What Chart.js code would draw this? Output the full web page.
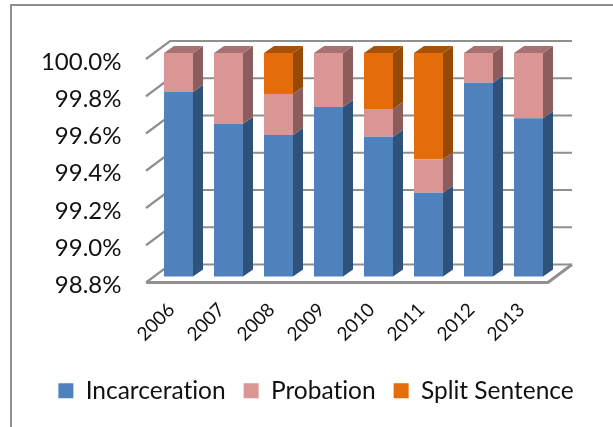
<!DOCTYPE html>
<html>
<head>
<meta charset="utf-8">
<title>Sentences</title>
<script src="https://cdn.jsdelivr.net/npm/chart.js@4"></script>
<style>
  html, body { margin: 0; background: #fff; }
  #wrap { position: relative; width: 613px; height: 427px; overflow: hidden; }
  #wrap:before { content: ''; position: absolute; left: 10px; top: 4px; right: 0; bottom: 0; border-left: 2px solid #8e8e8e; border-top: 2px solid #8e8e8e; }
  canvas { position: absolute; left: 0; top: 0; }
</style>
</head>
<body>
<div id="wrap"><canvas id="c" width="613" height="427"></canvas></div>
<script>
'use strict';

var years         = ['2006', '2007', '2008', '2009', '2010', '2011', '2012', '2013'];
var incarceration = [99.79, 99.62, 99.56, 99.71, 99.55, 99.25, 99.84, 99.65];
var probation     = [0.21, 0.38, 0.22, 0.29, 0.15, 0.18, 0.16, 0.35];
var splitSentence = [0, 0, 0.22, 0, 0.30, 0.57, 0, 0];

var colorBlue   = '#4f81bd';
var colorPink   = '#d99694';
var colorOrange = '#e46c0a';
var colorGrid   = '#8f8f8f';

// side and top faces per series
var sideColors = ['#2f527a', '#8b5e5d', '#964a07'];
var topColors  = ['#39618f', '#a87171', '#a85108'];

var DEPTH_X = 10, DEPTH_Y = -7;

function poly(ctx, pts, fill) {
    ctx.beginPath();
    ctx.moveTo(pts[0][0], pts[0][1]);
    for (var i = 1; i < pts.length; i++) ctx.lineTo(pts[i][0], pts[i][1]);
    ctx.closePath();
    ctx.fillStyle = fill;
    ctx.fill();
}

// ── back wall, left wall and floor ──────────────────────────────────
var wallsPlugin = {
    id: 'walls',
    beforeDraw: function (chart) {
        // no "ti" ligature in the legend
        chart.ctx.textRendering = 'optimizeSpeed';
    },
    beforeDatasetsDraw: function (chart) {
        var ctx = chart.ctx, y = chart.scales.y, a = chart.chartArea;
        var fl = a.left - 7.5, bl = a.left + 16.5, br = a.right + 18.5, fr = a.right - 5.5;
        ctx.save();
        ctx.strokeStyle = colorGrid;
        ctx.lineWidth = 2.2;
        y.ticks.forEach(function (t) {
            var py = y.getPixelForValue(t.value);
            ctx.beginPath();
            ctx.moveTo(fl, py + 6);
            ctx.lineTo(bl, py - 12);
            ctx.lineTo(br, py - 12);
            ctx.stroke();
        });
        var base = a.bottom;
        ctx.lineWidth = 3;
        ctx.beginPath();
        ctx.moveTo(fl, base + 6);
        ctx.lineTo(fr, base + 6);
        ctx.lineTo(br, base - 12);
        ctx.stroke();
        ctx.restore();
    }
};

// ── 3D faces of the bars ────────────────────────────────────────────
var facesPlugin = {
    id: 'faces',
    afterDatasetsDraw: function (chart) {
        var ctx = chart.ctx, a = chart.chartArea;
        chart.data.datasets.forEach(function (ds, di) {
            chart.getDatasetMeta(di).data.forEach(function (bar, i) {
                if (!ds.data[i]) return;
                var p = bar.getProps(['x', 'y', 'base', 'width'], true);
                var right = p.x + p.width / 2, left = p.x - p.width / 2;
                var top = Math.max(p.y, a.top), bottom = Math.min(p.base, a.bottom);
                poly(ctx, [[right, bottom], [right, top], [right + DEPTH_X, top + DEPTH_Y], [right + DEPTH_X, bottom + DEPTH_Y]], sideColors[di]);
                if (Math.abs(top - a.top) < 1) {
                    poly(ctx, [[left, top], [right, top], [right + DEPTH_X, top + DEPTH_Y], [left + DEPTH_X, top + DEPTH_Y]], topColors[di]);
                }
            });
        });
    }
};

var fontFamily = 'Lato, "Open Sans", sans-serif';

new Chart(document.getElementById('c'), {
    type: 'bar',
    data: {
        labels: years,
        datasets: [
            { label: 'Incarceration',  data: incarceration, backgroundColor: colorBlue },
            { label: 'Probation',      data: probation,     backgroundColor: colorPink },
            { label: 'Split Sentence', data: splitSentence, backgroundColor: colorOrange }
        ]
    },
    plugins: [wallsPlugin, facesPlugin],
    options: {
        responsive: false,
        animation: false,
        devicePixelRatio: 1,
        layout: { padding: { top: 53, left: 20, right: 0, bottom: 14 } },
        datasets: { bar: { categoryPercentage: 1, barPercentage: 0.58 } },
        plugins: {
            legend: {
                position: 'bottom',
                labels: {
                    color: '#111',
                    font: { family: fontFamily, size: 24.5 },
                    boxWidth: 15,
                    boxHeight: 15,
                    padding: 18
                }
            },
            tooltip: { enabled: false }
        },
        scales: {
            x: {
                stacked: true,
                grid: { display: false },
                border: { display: false },
                afterFit: function (s) { s.height = 84; },
                ticks: {
                    color: '#111',
                    font: { family: fontFamily, size: 19 },
                    minRotation: 45,
                    maxRotation: 45,
                    padding: 14,
                    labelOffset: -7,
                    autoSkip: false
                }
            },
            y: {
                stacked: true,
                min: 98.8,
                max: 100,
                grid: { display: false },
                border: { display: false },
                afterFit: function (s) { s.width = 133.5; },
                ticks: {
                    color: '#111',
                    font: { family: fontFamily, size: 24 },
                    stepSize: 0.2,
                    padding: 24,
                    labelOffset: 9,
                    callback: function (v) { return v.toFixed(1) + '%'; }
                }
            },
            // empty axis, only holds the room right of the plot
            spacer: {
                position: 'right',
                display: true,
                grid: { display: false },
                border: { display: false },
                ticks: { display: false },
                afterFit: function (s) { s.width = 59.5; }
            }
        }
    }
});
</script>
</body>
</html>
